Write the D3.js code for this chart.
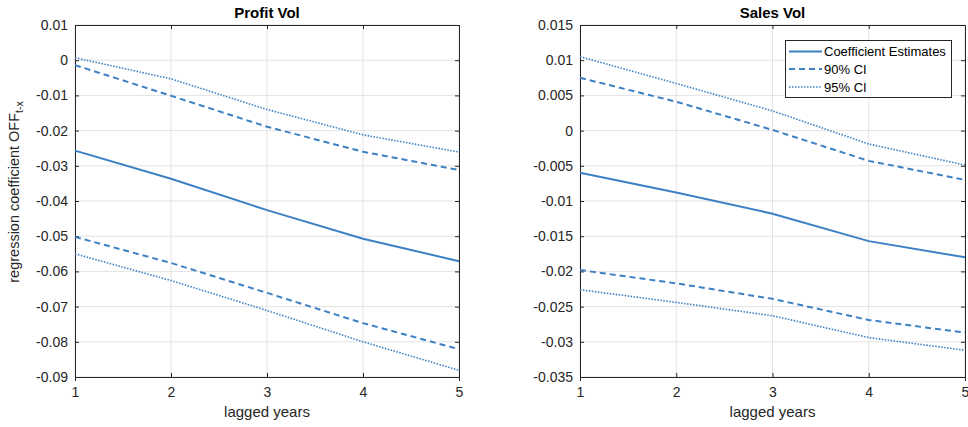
<!DOCTYPE html>
<html><head><meta charset="utf-8">
<script src="https://cdn.jsdelivr.net/npm/d3@7"></script>
<style>body{margin:0;background:#fff;} svg{display:block;font-family:"Liberation Sans",Arial,sans-serif;}</style>
</head><body>
<svg id="chart" width="968" height="427"></svg>
<script>
const lags = [1, 2, 3, 4, 5];

const profitCoef = [-0.0257, -0.0337, -0.0426, -0.0507, -0.0571];
const profitCI90Upper = [-0.0014, -0.0101, -0.0189, -0.0260, -0.0312];
const profitCI90Lower = [-0.0502, -0.0576, -0.0661, -0.0747, -0.0821];
const profitCI95Upper = [0.0007, -0.0053, -0.0140, -0.0212, -0.0261];
const profitCI95Lower = [-0.0550, -0.0626, -0.0711, -0.0800, -0.0881];
const profitYTicks = [0.01, 0, -0.01, -0.02, -0.03, -0.04, -0.05, -0.06, -0.07, -0.08, -0.09];

const salesCoef = [-0.0060, -0.0088, -0.0118, -0.0157, -0.0180];
const salesCI90Upper = [0.0075, 0.0041, 0.0001, -0.0043, -0.0070];
const salesCI90Lower = [-0.0198, -0.0217, -0.0239, -0.0269, -0.0287];
const salesCI95Upper = [0.0105, 0.0067, 0.0028, -0.0019, -0.0049];
const salesCI95Lower = [-0.0226, -0.0244, -0.0263, -0.0294, -0.0312];
const salesYTicks = [0.015, 0.01, 0.005, 0, -0.005, -0.01, -0.015, -0.02, -0.025, -0.03, -0.035];

const legendLabels = ["Coefficient Estimates", "90% CI", "95% CI"];
const titles = ["Profit Vol", "Sales Vol"];

const color = "#3d80c4";
const styles = {solid: null, dash: "6,4", dot: "1.5,1.5"};

const svg = d3.select("#chart");

function panel(cfg) {
  const x = d3.scaleLinear().domain([1, 5]).range([cfg.x0, cfg.x1]);
  const y = d3.scaleLinear().domain(cfg.ydom).range([377, 25]);
  const g = svg.append("g");
  // grid
  g.append("g").selectAll("line").data(lags).join("line")
    .attr("x1", d => x(d)).attr("x2", d => x(d)).attr("y1", 25).attr("y2", 377)
    .attr("stroke", "#e3e3e3").attr("stroke-width", 1);
  g.append("g").selectAll("line").data(cfg.ticks).join("line")
    .attr("x1", cfg.x0).attr("x2", cfg.x1).attr("y1", d => y(d)).attr("y2", d => y(d))
    .attr("stroke", "#e3e3e3").attr("stroke-width", 1);
  // axes
  const fmt = d => String(d);
  const ax = [
    g.append("g").attr("transform", `translate(0,377)`).call(d3.axisBottom(x).tickValues(lags).tickSize(4).tickFormat(d3.format("d"))),
    g.append("g").attr("transform", `translate(0,25)`).call(d3.axisTop(x).tickValues(lags).tickSize(-4).tickFormat("")),
    g.append("g").attr("transform", `translate(${cfg.x0},0)`).call(d3.axisLeft(y).tickValues(cfg.ticks).tickSize(-4).tickFormat(fmt)),
    g.append("g").attr("transform", `translate(${cfg.x1},0)`).call(d3.axisRight(y).tickValues(cfg.ticks).tickSize(-4).tickFormat(""))
  ];
  ax.forEach(a => {
    a.select(".domain").attr("stroke", "#262626");
    a.selectAll(".tick line").attr("stroke", "#262626");
    a.selectAll("text").attr("fill", "#262626").style("font-size", "14px").style("font-family", "Liberation Sans, Arial, sans-serif");
  });
  ax[0].selectAll(".tick line").attr("y2", -4);
  ax[0].selectAll("text").attr("y", 10);
  ax[2].selectAll("text").attr("x", -7);
  // lines
  const line = d3.line().x((d, i) => x(lags[i])).y(d => y(d));
  cfg.series.forEach(s => {
    g.append("path").datum(s.v).attr("d", line).attr("fill", "none")
      .attr("stroke", color).attr("stroke-width", s.w)
      .attr("stroke-dasharray", styles[s.style]);
  });
  // title
  g.append("text").attr("x", (cfg.x0 + cfg.x1) / 2).attr("y", 18).attr("text-anchor", "middle")
    .style("font-size", "15px").style("font-weight", "bold").attr("fill", "#000").text(cfg.title);
  g.append("text").attr("x", (cfg.x0 + cfg.x1) / 2).attr("y", 417).attr("text-anchor", "middle")
    .style("font-size", "15px").attr("fill", "#262626").text("lagged years");
  return {x, y, g};
}

panel({x0: 75, x1: 459, ydom: [-0.09, 0.01], ticks: profitYTicks, title: titles[0],
  series: [
    {v: profitCoef, style: "solid", w: 2},
    {v: profitCI90Upper, style: "dash", w: 2},
    {v: profitCI90Lower, style: "dash", w: 2},
    {v: profitCI95Upper, style: "dot", w: 1.6},
    {v: profitCI95Lower, style: "dot", w: 1.6}
  ]});
panel({x0: 580, x1: 965, ydom: [-0.035, 0.015], ticks: salesYTicks, title: titles[1],
  series: [
    {v: salesCoef, style: "solid", w: 2},
    {v: salesCI90Upper, style: "dash", w: 2},
    {v: salesCI90Lower, style: "dash", w: 2},
    {v: salesCI95Upper, style: "dot", w: 1.6},
    {v: salesCI95Lower, style: "dot", w: 1.6}
  ]});

// y label
const yl = svg.append("text").attr("transform", "translate(19,192) rotate(-90)").attr("text-anchor", "middle")
  .style("font-size", "14.5px").attr("fill", "#262626");
yl.append("tspan").text("regression coefficient OFF");
yl.append("tspan").attr("dy", 4).style("font-size", "10.5px").text("t-x");

// legend
const lg = svg.append("g");
lg.append("rect").attr("x", 785.5).attr("y", 40.5).attr("width", 166).attr("height", 57)
  .attr("fill", "#fff").attr("stroke", "#262626").attr("stroke-width", 1);
const legStyles = [["solid", 2], ["dash", 2], ["dot", 1.6]];
const legY = [51.5, 69, 87];
legendLabels.forEach((lab, i) => {
  lg.append("line").attr("x1", 789).attr("x2", 822).attr("y1", legY[i]).attr("y2", legY[i])
    .attr("stroke", color).attr("stroke-width", legStyles[i][1]).attr("stroke-dasharray", styles[legStyles[i][0]]);
  lg.append("text").attr("x", 824).attr("y", legY[i] + 4.5).style("font-size", "13px").attr("fill", "#000").text(lab);
});
</script>
</body></html>
